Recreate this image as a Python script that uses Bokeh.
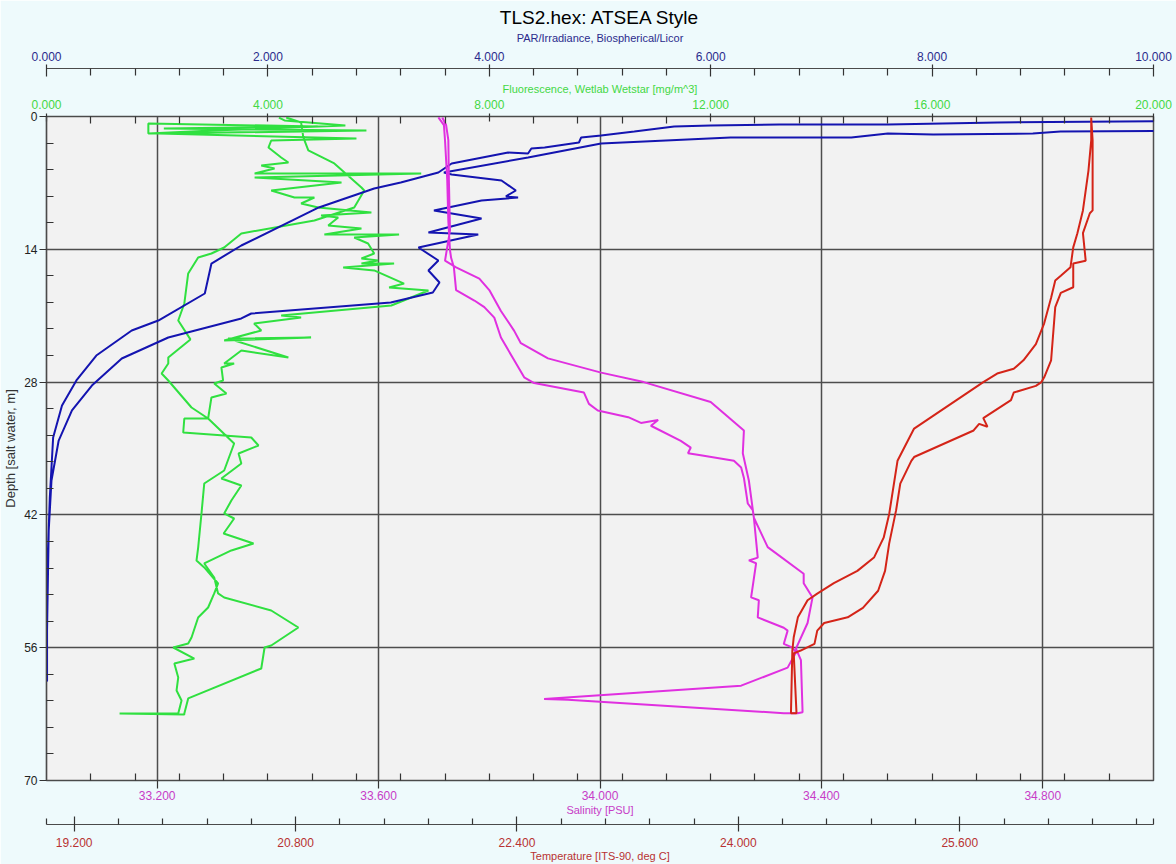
from bokeh.plotting import figure
from bokeh.models import Range1d, LinearAxis, FixedTicker, NumeralTickFormatter
from bokeh.embed import file_html
from bokeh.resources import INLINE

# ---------------- data ----------------
depth_ticks = [0, 14, 28, 42, 56, 70]
sal_ticks = [33.2, 33.6, 34.0, 34.4, 34.8]
temp_ticks = [19.2, 20.8, 22.4, 24.0, 25.6]
par_ticks = [0, 2, 4, 6, 8, 10]
fl_ticks = [0, 4, 8, 12, 16, 20]

# Temperature [ITS-90, deg C]  (down cast then up cast)
temp_depth = [0.1, 2.5, 5.7, 9.9, 12.3, 13.8, 15.9, 16.8, 17.3, 19.1, 21.8, 24.0, 25.7, 26.6, 27.1, 28.0,
              32.9, 36.3, 41.9, 44.4, 46.5, 47.9, 49.2, 50.3, 51.0, 52.8, 54.9, 56.3, 62.9,
              62.9, 56.6, 56.3, 55.6, 54.2, 53.4, 52.8, 51.8, 50.0, 47.9, 45.0, 41.5, 38.7, 36.3, 35.9,
              33.1, 32.4, 32.7, 31.8, 29.9, 29.1, 28.4, 28.0, 27.5, 25.7, 20.1, 18.6, 18.0, 15.5, 15.2,
              12.3, 10.2, 9.9, 2.5, 0.2]
temp_value = [26.55, 26.55, 26.53, 26.49, 26.45, 26.42, 26.40, 26.33, 26.29, 26.26, 26.21, 26.15, 26.06, 25.99, 25.87, 25.77,
              25.27, 25.15, 25.09, 25.05, 24.98, 24.86, 24.69, 24.57, 24.50, 24.43, 24.40, 24.39, 24.38,
              24.42, 24.40, 24.45, 24.55, 24.57, 24.62, 24.79, 24.90, 25.01, 25.06, 25.09, 25.14, 25.17, 25.25, 25.27,
              25.70, 25.74, 25.80, 25.77, 25.97, 25.99, 26.15, 26.19, 26.21, 26.26, 26.29, 26.33, 26.42, 26.42, 26.51,
              26.49, 26.54, 26.56, 26.56, 26.55]

# Salinity [PSU]
sal_depth = [0.1, 0.9, 2.5, 6.7, 11.0, 14.1, 14.9, 15.9, 18.3, 19.4, 20.1, 21.2, 23.3, 25.7, 27.5, 28.1,
             29.1, 30.3, 31.0, 31.7, 32.3, 32.0, 32.6, 34.2, 34.9, 35.5, 35.7, 36.3, 37.0, 38.1, 40.8, 41.5,
             42.3, 46.5, 46.8, 47.1, 50.7, 51.0, 52.8, 53.9, 54.2, 55.6, 56.0, 56.5, 58.1, 60.0, 61.4, 61.5,
             62.9, 62.9,
             62.8, 57.3, 56.1, 53.4, 50.7, 49.2, 48.2, 45.4, 42.3, 38.4, 35.5, 33.1, 30.1, 28.0, 27.0, 25.5,
             23.9, 22.6, 20.5, 18.3, 17.1, 15.9, 15.2, 12.0, 6.7, 2.5, 0.9, 0.1]
sal_value = [33.708, 33.718, 33.720, 33.724, 33.726, 33.729, 33.731, 33.736, 33.740, 33.773, 33.791, 33.809, 33.821, 33.845, 33.863, 33.881,
             33.971, 33.980, 33.996, 34.051, 34.074, 34.105, 34.092, 34.146, 34.164, 34.159, 34.182, 34.242, 34.255, 34.260, 34.267, 34.276,
             34.278, 34.285, 34.269, 34.282, 34.273, 34.287, 34.285, 34.332, 34.339, 34.332, 34.348, 34.354, 34.339, 34.255, 33.899, 33.942,
             34.332, 34.357,
             34.366, 34.363, 34.354, 34.375, 34.384, 34.368, 34.368, 34.303, 34.278, 34.269, 34.258, 34.260, 34.200, 34.079, 34.002, 33.906,
             33.857, 33.845, 33.821, 33.800, 33.782, 33.740, 33.720, 33.729, 33.727, 33.726, 33.722, 33.715]

# PAR/Irradiance, Biospherical/Licor
par_depth = [0.45, 0.63, 0.84, 0.84, 0.95, 1.05, 1.58, 2.00, 2.21, 2.74, 3.27, 3.37, 3.90, 3.80, 4.95, 5.90,
             6.96, 7.59, 9.59, 13.60, 15.50, 18.66, 21.51, 22.56, 25.20, 27.83, 30.47, 33.84, 40.16, 46.81, 53.13, 59.5,
             59.5, 54.19, 43.64, 38.37, 34.16, 30.99, 28.36, 25.51, 23.30, 21.29, 20.77, 19.61, 18.55, 17.50, 16.23, 15.18,
             13.81, 12.44, 12.23, 10.75, 9.91, 8.86, 8.54, 8.43, 7.80, 6.75, 6.11, 5.90, 4.32, 2.85, 2.21, 2.21,
             1.80, 1.90, 1.79, 1.58, 1.50]
par_value = [10.6, 8.59, 7.60, 6.62, 6.00, 5.67, 5.31, 5.01, 4.83, 4.81, 4.50, 4.38, 4.35, 4.17, 3.66, 3.54,
             3.20, 2.96, 2.46, 1.76, 1.49, 1.43, 1.01, 0.77, 0.45, 0.27, 0.14, 0.06, 0.03, 0.01, 0.00, 0.00,
             0.005, 0.005, 0.02, 0.045, 0.11, 0.23, 0.41, 0.68, 1.10, 1.76, 1.85, 3.11, 3.49, 3.55, 3.45, 3.54,
             3.36, 3.90, 3.45, 3.93, 3.50, 3.93, 4.26, 4.15, 4.24, 4.11, 3.66, 3.59, 4.35, 5.01, 6.18, 7.27,
             7.60, 8.01, 8.91, 9.16, 10.6]

# Fluorescence, Wetlab Wetstar [mg/m^3]
fl_depth = [0.11, 0.63, 2.21, 3.58, 4.95, 7.48, 7.80, 9.59, 10.96, 12.33, 13.81, 14.44, 14.86, 16.55, 19.71,
            21.51, 23.50, 25.41, 26.04, 27.09, 27.83, 30.68, 31.84, 34.47, 37.32, 38.69, 41.85, 45.44, 46.81, 47.54,
            49.23, 50.28, 51.76, 52.81, 54.92, 55.56, 55.98, 57.14, 57.66, 59.14, 60.51, 61.56, 62.94, 62.94, 63.04,
            62.94, 61.35, 58.19, 55.98, 55.77, 53.87, 52.08, 50.71, 50.28, 48.60,
            47.12, 45.75, 45.01, 43.96, 42.38, 41.85, 40.48, 38.90, 38.16, 36.58,
            35.53, 34.68, 33.84, 33.31, 31.84, 31.84, 29.62, 29.20, 28.15, 27.83,
            26.46, 26.04, 26.04, 24.67, 25.41, 23.40, 23.30, 23.61, 22.56, 21.82,
            21.19, 20.98, 19.92, 18.34, 18.03, 17.61, 16.23, 15.92, 15.50, 15.50,
            15.18, 14.97, 14.44, 13.39, 12.76, 12.44, 12.44, 11.81, 11.49, 10.65,
            10.44, 10.12, 9.59, 9.17, 8.54, 8.54, 7.80, 6.96, 6.43, 6.01,
            6.01, 5.48, 5.17, 4.85, 4.32, 3.27, 2.53, 2.32, 1.79, 1.48,
            1.27, 1.05, 0.74, 1.79, 1.48, 0.95, 0.42, 0.11]
fl_value = [4.33, 4.60, 4.64, 4.73, 5.20, 5.69, 5.74, 5.56, 4.84, 3.52, 3.21, 2.98, 2.74, 2.56, 2.49,
            2.38, 2.60, 2.20, 2.20, 2.08, 2.20, 2.62, 2.92, 3.39, 3.21, 2.85, 2.80, 2.74, 2.71, 2.85,
            3.10, 3.03, 2.92, 2.74, 2.62, 2.56, 2.29, 2.67, 2.31, 2.38, 2.35, 2.44, 2.38, 1.32, 2.49,
            2.49, 2.56, 3.88, 3.94, 4.06, 4.55, 4.06, 3.21, 3.10, 3.03,
            2.85, 3.34, 3.74, 3.20, 3.39, 3.21, 3.34, 3.52, 3.16, 3.52,
            3.47, 3.83, 3.70, 2.47, 2.49, 2.92, 2.98, 3.25, 3.03, 3.19,
            3.16, 3.39, 3.21, 3.52, 4.37, 3.28, 4.78, 3.21, 3.88, 3.75,
            4.60, 4.24, 6.23, 6.90, 6.19, 6.46, 5.92, 5.36, 6.28, 5.69,
            5.99, 5.69, 5.92, 5.81, 5.56, 6.37, 5.02, 5.69, 5.09, 5.27,
            4.96, 5.87, 4.91, 4.60, 4.84, 4.48, 4.06, 5.33, 3.76, 6.77,
            3.76, 4.12, 3.88, 4.37, 4.24, 4.01, 4.06, 5.60, 2.03, 5.78,
            2.12, 4.90, 1.84, 1.84, 3.00, 5.40, 4.30, 4.20]

# ---------------- styling ----------------
FONT = "Liberation Sans"
C_PAR, C_PAR_TXT = "#1414b0", "#2b2b8c"
C_FL, C_FL_TXT = "#30e040", "#44d844"
C_SAL, C_SAL_TXT = "#e030e0", "#c73cc7"
C_TEMP, C_TEMP_TXT = "#d42418", "#b83232"


def minor_between(start, stop, step, majors, lo, hi):
    out = []
    k = 0
    while True:
        v = round(start + k * step, 4)
        if v > hi + 1e-9:
            break
        if v >= lo - 1e-9 and all(abs(v - m) > 1e-6 for m in majors):
            out.append(v)
        k += 1
    return out


p = figure(width=1176, height=864,
           x_range=Range1d(33.0, 35.0), y_range=Range1d(70, 0),
           output_backend="svg", toolbar_location=None,
           min_border_left=45, min_border_right=23, min_border_top=116, min_border_bottom=84,
           background_fill_color="#f2f2f2", border_fill_color="#eefafc",
           outline_line_color="#505050", outline_line_width=1.5)
p.extra_x_ranges = {"temp": Range1d(19.0, 27.0), "par": Range1d(0, 10), "fl": Range1d(0, 20)}

p.title.text = "TLS2.hex: ATSEA Style"
p.title.align = "center"
p.title.text_font = FONT
p.title.text_font_size = "19px"
p.title.text_font_style = "normal"
p.title.text_color = "#000000"
p.title.standoff = 2


def style(ax, color, tick_out, tick_in, minor_in, standoff, label_standoff):
    ax.axis_line_color = "#4a4a4a"
    ax.axis_line_width = 1.2
    ax.major_tick_line_color = "#333333"
    ax.minor_tick_line_color = "#333333"
    ax.major_tick_line_width = 1.2
    ax.minor_tick_line_width = 1.2
    ax.major_tick_out = tick_out
    ax.major_tick_in = tick_in
    ax.minor_tick_out = 0
    ax.minor_tick_in = minor_in
    ax.major_label_text_color = color
    ax.major_label_text_font = FONT
    ax.major_label_text_font_size = "12px"
    ax.axis_label_text_color = color
    ax.axis_label_text_font = FONT
    ax.axis_label_text_font_size = "11px"
    ax.axis_label_text_font_style = "normal"
    ax.major_label_standoff = standoff
    ax.axis_label_standoff = label_standoff


def spacer(range_name, size, mid):
    # invisible axis that only reserves vertical room between two visible axes
    return LinearAxis(x_range_name=range_name, ticker=FixedTicker(ticks=[mid]),
                      major_tick_out=size, major_tick_in=0, minor_tick_out=0, minor_tick_in=0,
                      axis_line_color=None, major_tick_line_color=None, minor_tick_line_color=None,
                      major_label_standoff=0, major_label_text_font_size="1px",
                      major_label_text_alpha=0.0, major_label_overrides={mid: "."})


# salinity (default bottom axis, nearest the frame)
sal_ax = p.xaxis[0]
sal_ax.ticker = FixedTicker(ticks=sal_ticks,
                            minor_ticks=minor_between(33.0, 35.0, 0.08, sal_ticks, 33.01, 34.99))
sal_ax.formatter = NumeralTickFormatter(format="0.000")
sal_ax.axis_label = "Salinity [PSU]"
style(sal_ax, C_SAL_TXT, 8, 0, 7, 2, 1)

p.add_layout(spacer("temp", 6, 23.0), "below")

temp_ax = LinearAxis(x_range_name="temp", axis_label="Temperature [ITS-90, deg C]")
temp_ax.ticker = FixedTicker(ticks=temp_ticks,
                             minor_ticks=minor_between(19.2, 27.0, 0.32, temp_ticks, 19.0, 27.0) + [19.0, 27.0])
temp_ax.formatter = NumeralTickFormatter(format="0.000")
style(temp_ax, C_TEMP_TXT, 7, 8, 6, 6, 0)
p.add_layout(temp_ax, "below")

# top axes: fluorescence nearest the frame, then spacer, then PAR
fl_ax = LinearAxis(x_range_name="fl", axis_label="Fluorescence, Wetlab Wetstar [mg/m^3]")
fl_ax.ticker = FixedTicker(ticks=fl_ticks, minor_ticks=minor_between(0, 20, 0.8, fl_ticks, 0.1, 19.9))
fl_ax.formatter = NumeralTickFormatter(format="0.000")
style(fl_ax, C_FL_TXT, 3, 5, 7, 5, 2)
p.add_layout(fl_ax, "above")

p.add_layout(spacer("par", 11, 5.0), "above")

par_ax = LinearAxis(x_range_name="par", axis_label="PAR/Irradiance, Biospherical/Licor")
par_ax.ticker = FixedTicker(ticks=par_ticks, minor_ticks=minor_between(0, 10, 0.4, par_ticks, 0.1, 9.9))
par_ax.formatter = NumeralTickFormatter(format="0.000")
style(par_ax, C_PAR_TXT, 4, 8, 7, 4, 5)
p.add_layout(par_ax, "above")

# depth axis
d_ax = p.yaxis[0]
d_ax.ticker = FixedTicker(ticks=depth_ticks,
                          minor_ticks=minor_between(0, 70, 2.8, depth_ticks, 0.1, 69.9))
d_ax.formatter = NumeralTickFormatter(format="0")
d_ax.axis_label = "Depth [salt water, m]"
style(d_ax, "#333333", 7, 0, 7, 2, 3)
d_ax.major_label_text_color = "#222222"
d_ax.axis_label_text_font_size = "13px"

# grids
for g in (p.xgrid[0], p.ygrid[0]):
    g.grid_line_color = "#4d4d4d"
    g.grid_line_width = 1.5

# series
p.line(fl_value, fl_depth, x_range_name="fl", line_color=C_FL, line_width=2)
p.line(par_value, par_depth, x_range_name="par", line_color=C_PAR, line_width=2)
p.line(sal_value, sal_depth, line_color=C_SAL, line_width=2)
p.line(temp_value, temp_depth, x_range_name="temp", line_color=C_TEMP, line_width=2)

open("out.html", "w").write(file_html(p, INLINE))
